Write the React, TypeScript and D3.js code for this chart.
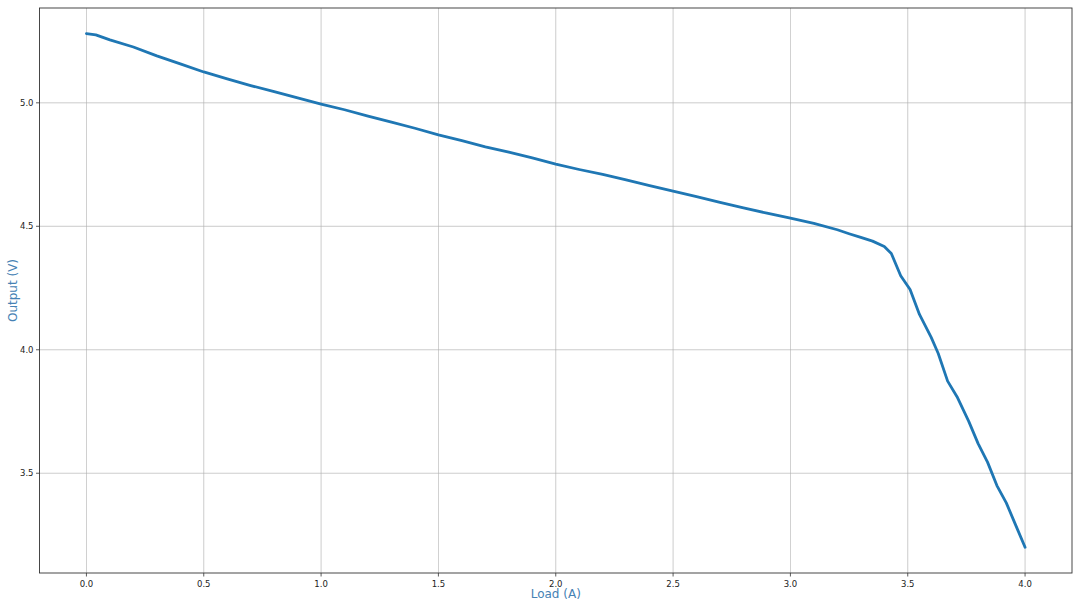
import React from "react";
import * as d3 from "d3";

const loadA = [0, 0.04, 0.1, 0.2, 0.3, 0.4, 0.5, 0.6, 0.7, 0.8, 0.9, 1.0, 1.1, 1.2, 1.3, 1.4, 1.5, 1.6, 1.7, 1.8, 1.9, 2.0, 2.1, 2.2, 2.3, 2.4, 2.5, 2.6, 2.7, 2.8, 2.9, 3.0, 3.1, 3.2, 3.25, 3.3, 3.35, 3.4, 3.43, 3.47, 3.51, 3.55, 3.6, 3.63, 3.67, 3.71, 3.76, 3.8, 3.84, 3.88, 3.92, 3.96, 4.0];
const outputV = [5.28, 5.275, 5.255, 5.226, 5.19, 5.158, 5.125, 5.097, 5.07, 5.045, 5.02, 4.995, 4.972, 4.946, 4.922, 4.897, 4.87, 4.847, 4.822, 4.8, 4.777, 4.752, 4.73, 4.71, 4.688, 4.665, 4.642, 4.62, 4.597, 4.575, 4.553, 4.533, 4.512, 4.486, 4.47, 4.455, 4.44, 4.418, 4.39, 4.3, 4.244, 4.143, 4.05, 3.985, 3.873, 3.81, 3.71, 3.62, 3.545, 3.45, 3.38, 3.29, 3.2];
const xTicks = [0, 0.5, 1.0, 1.5, 2.0, 2.5, 3.0, 3.5, 4.0];
const yTicks = [3.5, 4.0, 4.5, 5.0];

const W = 1080, H = 608;
const L = 39.5, R = 1072, T = 8, B = 573;

export default function App() {
  const xmin = d3.min(loadA)!, xmax = d3.max(loadA)!;
  const ymin = d3.min(outputV)!, ymax = d3.max(outputV)!;
  const xp = (xmax - xmin) * 0.05, yp = (ymax - ymin) * 0.05;
  const x = d3.scaleLinear().domain([xmin - xp, xmax + xp]).range([L, R]);
  const y = d3.scaleLinear().domain([ymin - yp, ymax + yp]).range([B, T]);
  const pts = loadA.map((v, i) => [v, outputV[i]] as [number, number]);
  const line = d3.line<[number, number]>().x(d => x(d[0])).y(d => y(d[1]));
  const font = "'DejaVu Sans', sans-serif";
  return (
    <svg width={W} height={H} style={{ position: "absolute", left: 0, top: 0, background: "#fff" }}>
      <rect x={0} y={0} width={W} height={H} fill="#fff" />
      {xTicks.map(t => (
        <line key={"gx" + t} x1={x(t)} x2={x(t)} y1={T} y2={B} stroke="#b0b0b0" strokeWidth={0.8} opacity={0.8} />
      ))}
      {yTicks.map(t => (
        <line key={"gy" + t} x1={L} x2={R} y1={y(t)} y2={y(t)} stroke="#b0b0b0" strokeWidth={0.8} opacity={0.8} />
      ))}
      <path d={line(pts)!} fill="none" stroke="#1f77b4" strokeWidth={2.8} strokeLinejoin="round" strokeLinecap="round" />
      <rect x={L} y={T} width={R - L} height={B - T} fill="none" stroke="#333" strokeWidth={0.9} />
      {xTicks.map(t => (
        <g key={"tx" + t}>
          <line x1={x(t)} x2={x(t)} y1={B} y2={B + 3.5} stroke="#333" strokeWidth={0.8} />
          <text x={x(t)} y={B + 14} fontSize={8.5} fontFamily={font} textAnchor="middle" fill="#222">{t.toFixed(1)}</text>
        </g>
      ))}
      {yTicks.map(t => (
        <g key={"ty" + t}>
          <line x1={L - 3.5} x2={L} y1={y(t)} y2={y(t)} stroke="#333" strokeWidth={0.8} />
          <text x={L - 6} y={y(t) + 3} fontSize={8.5} fontFamily={font} textAnchor="end" fill="#222">{t.toFixed(1)}</text>
        </g>
      ))}
      <text x={(L + R) / 2} y={598} fontSize={12} fontFamily={font} textAnchor="middle" fill="#4682b4">Load (A)</text>
      <text transform={`translate(17,${(T + B) / 2}) rotate(-90)`} fontSize={12} fontFamily={font} textAnchor="middle" fill="#4682b4">Output (V)</text>
    </svg>
  );
}
